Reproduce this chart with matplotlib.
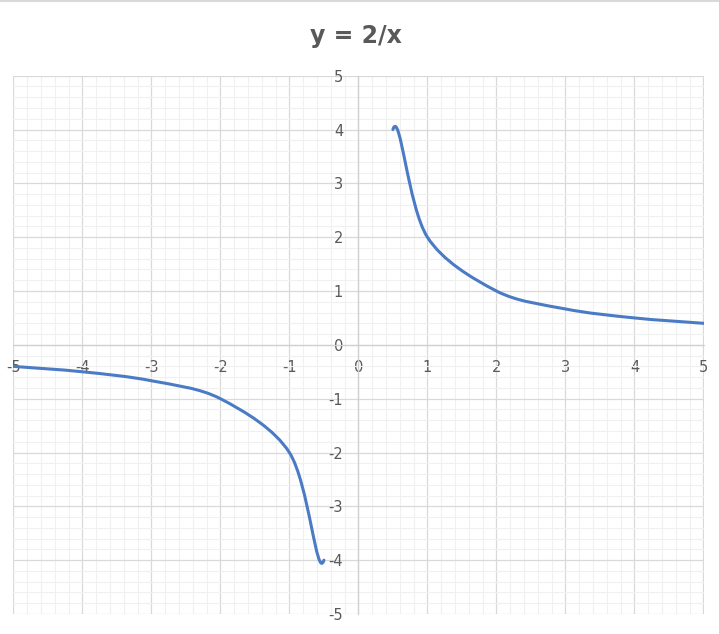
import numpy as np
import matplotlib
matplotlib.use("Agg")
import matplotlib.pyplot as plt
from matplotlib.path import Path
from matplotlib.patches import PathPatch

# Data (one series with an empty cell at x = 0, as in the spreadsheet)
x_vals = [-5, -4, -3, -2, -1, -0.5, 0, 0.5, 1, 2, 3, 4, 5]
y_vals = [-0.4, -0.5, -0.6667, -1, -2, -4, None, 4, 2, 1, 0.6667, 0.5, 0.4]
x_ticks = [-5, -4, -3, -2, -1, 0, 1, 2, 3, 4, 5]
y_ticks = [-5, -4, -3, -2, -1, 0, 1, 2, 3, 4, 5]
title = "y = 2/x"

W, H = 719, 634
fig = plt.figure(figsize=(W / 100, H / 100), dpi=100)
L, R, T, B = 13.3, 703.5, 75.7, 614.0
ax = fig.add_axes([L / W, 1 - B / H, (R - L) / W, (B - T) / H])
ax.set_xlim(-5, 5)
ax.set_ylim(-5, 5)

# grid
ax.set_xticks(x_ticks)
ax.set_yticks(y_ticks)
ax.set_xticks(np.arange(-5, 5.01, 0.2), minor=True)
ax.set_yticks(np.arange(-5, 5.01, 0.2), minor=True)
ax.grid(which="minor", color="#f0f0f0", lw=0.8)
ax.grid(which="major", color="#d9d9d9", lw=0.9)
ax.set_axisbelow(True)
for s in ["top", "right"]:
    ax.spines[s].set_visible(False)
ax.spines["left"].set_position(("data", 0))
ax.spines["bottom"].set_position(("data", 0))
for s in ["left", "bottom"]:
    ax.spines[s].set_color("#d0d0d0")
    ax.spines[s].set_linewidth(0.9)
ax.tick_params(which="both", length=0)
ax.tick_params(axis="both", labelsize=10.5, labelcolor="#595959", pad=11)
ax.set_xticklabels([str(v) for v in x_ticks])
ax.set_yticklabels([str(v) for v in y_ticks])
for lab in ax.get_xticklabels() + ax.get_yticklabels():
    lab.set_fontfamily("DejaVu Sans")

# Excel-like smoothed line (Bezier, tangents use neighbours across the gap)
sx = (R - L) / 10.0
sy = (B - T) / 10.0
pts = [(x, y) for x, y in zip(x_vals, y_vals) if y is not None]
P = np.array(pts, dtype=float)
n = len(P)
breaks = set()
k = 0
for i in range(len(x_vals)):
    if y_vals[i] is None:
        breaks.add(k - 1)
    else:
        k += 1

def dist(a, b):
    return np.hypot((a[0] - b[0]) * sx, (a[1] - b[1]) * sy)

verts, codes = [], []
f = 1.0 / 3.0
for i in range(n - 1):
    if i in breaks:
        continue
    p1, p2 = P[i], P[i + 1]
    p0 = P[i - 1] if i > 0 else p1
    p3 = P[i + 2] if i + 2 < n else p2
    d01, d12, d23 = dist(p0, p1), dist(p1, p2), dist(p2, p3)
    r1 = d12 / (d01 + d12) if d01 + d12 > 0 else 0
    r2 = d12 / (d12 + d23) if d12 + d23 > 0 else 0
    c1 = p1 + (p2 - p0) * f * r1
    c2 = p2 - (p3 - p1) * f * r2
    if i == 0 or (i - 1) in breaks:
        verts.append(tuple(p1)); codes.append(Path.MOVETO)
    verts += [tuple(c1), tuple(c2), tuple(p2)]
    codes += [Path.CURVE4] * 3

path = Path(verts, codes)
ax.add_patch(PathPatch(path, facecolor="none", edgecolor="#4A7BC4", lw=2.2,
                       capstyle="round", joinstyle="round", zorder=3))

fig.text(356 / W, 1 - 36.5 / H, title, ha="center", va="center",
         fontsize=17, fontweight="bold", color="#595959",
         family="DejaVu Sans")
fig.add_artist(plt.Line2D([0, 1], [1 - 0.8 / H, 1 - 0.8 / H], color="#d9d9d9", lw=1.5))

fig.savefig("out.png", dpi=100, facecolor="white")
